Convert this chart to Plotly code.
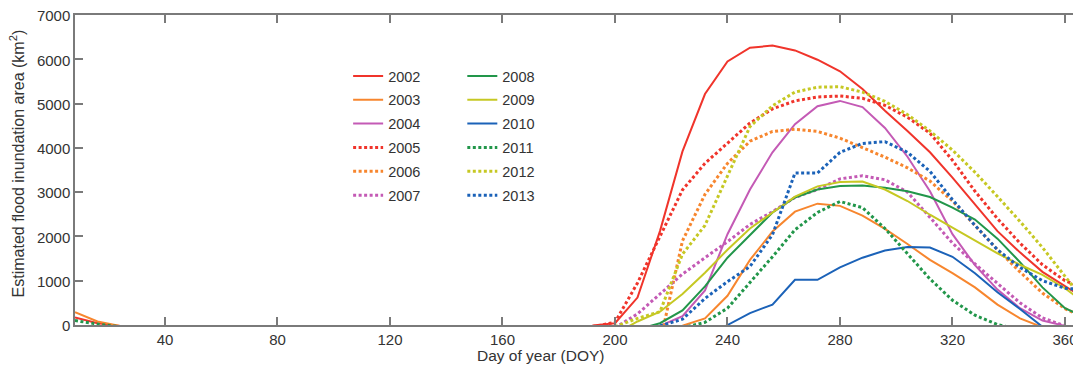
import plotly.graph_objects as go

N = None

# Day-of-year sampling (8-day composites)
DOY_EARLY = [8, 16, 24]
DOY_SEASON = [192, 200, 208, 216, 224, 232, 240, 248, 256, 264, 272, 280,
              288, 296, 304, 312, 320, 328, 336, 344, 352, 360, 368]

# Early-year tails (only a few years)
E2002 = [170, 40, -20]
E2003 = [290, 80, -20]
E2011 = [100, 20, -40]

# Flood season values (km^2)
Y2002 = [-10, 40, 620, 2120, 3920, 5215, 5950, 6260, 6310, 6200, 5990, 5730, 5330, 4840, 4380, 3900, 3330, 2720, 2120, 1640, 1200, 880, 560]
Y2003 = [N, N, N, N, -15, 150, 660, 1470, 2110, 2560, 2740, 2690, 2470, 2170, 1830, 1470, 1170, 850, 460, 150, -50, N, N]
Y2004 = [N, N, N, -20, 200, 780, 2050, 3060, 3900, 4535, 4940, 5060, 4920, 4450, 3800, 3020, 2050, 1350, 800, 380, 100, -20, N]
Y2005 = [-40, 60, 950, 2000, 3050, 3650, 4100, 4560, 4880, 5060, 5150, 5170, 5120, 4960, 4690, 4330, 3720, 3020, 2400, 1850, 1360, 1000, 800]
Y2006 = [N, N, N, -400, 1900, 2950, 3650, 4150, 4370, 4420, 4370, 4220, 4000, 3790, 3550, 3250, 2800, 2250, 1700, 1200, 720, 370, 130]
Y2007 = [N, -60, 250, 700, 1150, 1520, 1880, 2270, 2560, 2880, 3060, 3300, 3370, 3280, 3000, 2430, 1850, 1380, 950, 500, 160, -20, N]
Y2008 = [N, N, -100, 40, 330, 870, 1520, 2040, 2540, 2880, 3060, 3140, 3150, 3100, 3020, 2890, 2650, 2380, 1950, 1420, 850, 380, 150]
Y2009 = [N, -200, 80, 300, 700, 1180, 1700, 2180, 2540, 2900, 3130, 3230, 3240, 3060, 2800, 2490, 2200, 1910, 1620, 1360, 1130, 830, 450]
Y2010 = [N, N, N, N, N, -300, 0, 270, 460, 1020, 1020, 1300, 1520, 1680, 1760, 1750, 1540, 1170, 740, 360, -40, N, N]
Y2011 = [N, N, N, N, -60, 60, 380, 950, 1540, 2150, 2540, 2790, 2650, 2180, 1600, 1040, 560, 220, 10, -100, N, N, N]
Y2012 = [N, -40, 150, 300, 1600, 2250, 3350, 4480, 4950, 5260, 5370, 5380, 5260, 5050, 4750, 4380, 3950, 3450, 2900, 2340, 1750, 1100, 450]
Y2013 = [N, N, N, -20, 130, 600, 980, 1320, 2040, 3430, 3430, 3900, 4100, 4140, 3900, 3470, 2830, 2250, 1700, 1300, 1000, 830, 790]

X_TICKS = [40, 80, 120, 160, 200, 240, 280, 320, 360]
Y_TICKS = [0, 1000, 2000, 3000, 4000, 5000, 6000, 7000]

RED = "#f0342b"
ORANGE = "#f7862e"
MAGENTA = "#c45ab5"
GREEN = "#22964a"
YELLOW = "#c6c823"
BLUE = "#1b62b8"

series = [
    ("2002", Y2002, E2002, RED, "solid", "legend"),
    ("2003", Y2003, E2003, ORANGE, "solid", "legend"),
    ("2004", Y2004, None, MAGENTA, "solid", "legend"),
    ("2005", Y2005, None, RED, "dot", "legend"),
    ("2006", Y2006, None, ORANGE, "dot", "legend"),
    ("2007", Y2007, None, MAGENTA, "dot", "legend"),
    ("2008", Y2008, None, GREEN, "solid", "legend2"),
    ("2009", Y2009, None, YELLOW, "solid", "legend2"),
    ("2010", Y2010, None, BLUE, "solid", "legend2"),
    ("2011", Y2011, E2011, GREEN, "dot", "legend2"),
    ("2012", Y2012, None, YELLOW, "dot", "legend2"),
    ("2013", Y2013, None, BLUE, "dot", "legend2"),
]

fig = go.Figure()
for name, vals, early, color, style, leg in series:
    if early is not None:
        x = DOY_EARLY + [None] + DOY_SEASON
        y = early + [None] + vals
    else:
        x = DOY_SEASON
        y = vals
    if style == "dot":
        line = dict(color=color, width=3, dash="3px,2.5px")
    else:
        line = dict(color=color, width=2)
    fig.add_trace(go.Scatter(x=x, y=y, mode="lines", name=name, line=line,
                             legend=leg, legendgroup=name))

AXIS_COLOR = "#7a7a7a"
TEXT_COLOR = "#333333"
FONT = "Arial, Liberation Sans, sans-serif"

# The page body adds an 8px offset, so margins compensate for it.
fig.update_layout(
    width=1081, height=374,
    margin=dict(l=67, r=8, t=7, b=57),
    plot_bgcolor="white", paper_bgcolor="white",
    font=dict(family=FONT, size=15, color=TEXT_COLOR),
    legend=dict(x=0.2715, y=0.855, xanchor="left", yanchor="top",
                bgcolor="rgba(0,0,0,0)", tracegroupgap=2,
                font=dict(family=FONT, size=14.5, color=TEXT_COLOR)),
    legend2=dict(x=0.385, y=0.855, xanchor="left", yanchor="top",
                 bgcolor="rgba(0,0,0,0)", tracegroupgap=2,
                 font=dict(family=FONT, size=14.5, color=TEXT_COLOR)),
    xaxis=dict(range=[8, 365.7], tickvals=X_TICKS, ticks="inside", ticklen=8,
               tickwidth=1.5, tickcolor=AXIS_COLOR, showline=True,
               linecolor=AXIS_COLOR, linewidth=1.5, mirror="ticks",
               showgrid=False, zeroline=False, automargin=False,
               ticklabeloverflow="allow",
               tickfont=dict(family=FONT, size=15, color=TEXT_COLOR)),
    yaxis=dict(range=[0, 7000], tickvals=Y_TICKS, ticks="inside", ticklen=8,
               tickwidth=1.5, tickcolor=AXIS_COLOR, showline=True,
               linecolor=AXIS_COLOR, linewidth=1.5, mirror="ticks",
               showgrid=False, zeroline=False, automargin=False,
               ticklabeloverflow="allow", ticklabelshift=1,
               tickfont=dict(family=FONT, size=15, color=TEXT_COLOR)),
    annotations=[
        dict(text="Day of year (DOY)", xref="paper", yref="paper",
             x=0.4627, y=-0.097, xanchor="center", yanchor="middle",
             showarrow=False, font=dict(family=FONT, size=15.5, color=TEXT_COLOR)),
        dict(text="Estimated flood inundation area (km<sup>2</sup>)",
             xref="paper", yref="paper", x=-0.0572, y=0.5226,
             xanchor="center", yanchor="middle", textangle=-90,
             showarrow=False, font=dict(family=FONT, size=16, color=TEXT_COLOR)),
    ],
)

fig.write_html("out.html")
